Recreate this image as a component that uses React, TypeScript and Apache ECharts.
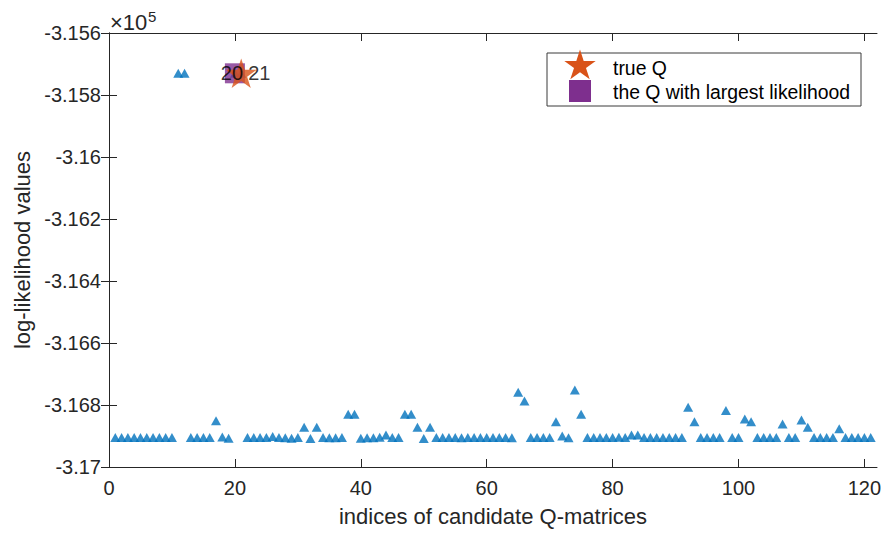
import React, { useEffect, useRef } from "react";
import * as echarts from "echarts";

const candidateIndices = [
  1, 2, 3, 4, 5, 6, 7, 8, 9, 10,
  11, 12, 13, 14, 15, 16, 17, 18, 19, 20,
  21, 22, 23, 24, 25, 26, 27, 28, 29, 30,
  31, 32, 33, 34, 35, 36, 37, 38, 39, 40,
  41, 42, 43, 44, 45, 46, 47, 48, 49, 50,
  51, 52, 53, 54, 55, 56, 57, 58, 59, 60,
  61, 62, 63, 64, 65, 66, 67, 68, 69, 70,
  71, 72, 73, 74, 75, 76, 77, 78, 79, 80,
  81, 82, 83, 84, 85, 86, 87, 88, 89, 90,
  91, 92, 93, 94, 95, 96, 97, 98, 99, 100,
  101, 102, 103, 104, 105, 106, 107, 108, 109, 110,
  111, 112, 113, 114, 115, 116, 117, 118, 119, 120,
  121,
];

const logLikelihood = [
  -316905, -316905, -316905, -316905, -316905, -316905, -316905, -316905, -316905, -316905,
  -315730, -315730, -316905, -316905, -316905, -316905, -316851, -316903, -316907, -315730,
  -315730, -316905, -316905, -316905, -316905, -316902, -316905, -316906, -316907, -316905,
  -316872, -316908, -316872, -316905, -316906, -316906, -316905, -316830, -316830, -316907,
  -316906, -316906, -316904, -316897, -316905, -316905, -316830, -316830, -316872, -316908,
  -316872, -316905, -316905, -316905, -316905, -316906, -316905, -316905, -316905, -316905,
  -316905, -316905, -316905, -316906, -316759, -316787, -316905, -316905, -316905, -316905,
  -316854, -316900, -316906, -316752, -316830, -316905, -316905, -316905, -316905, -316905,
  -316904, -316905, -316897, -316897, -316905, -316905, -316905, -316905, -316905, -316905,
  -316905, -316807, -316854, -316905, -316905, -316905, -316905, -316818, -316905, -316905,
  -316845, -316854, -316905, -316905, -316905, -316905, -316861, -316905, -316905, -316848,
  -316872, -316905, -316905, -316905, -316905, -316877, -316905, -316905, -316905, -316905,
  -316905,
];

const bestQIndex = 20;
const trueQIndex = 21;

const xTicks = [0, 20, 40, 60, 80, 100, 120];
const yTicks = [-317000, -316800, -316600, -316400, -316200, -316000, -315800, -315600];

const FONT = "'Liberation Sans', Arial, Helvetica, sans-serif";
const AX = "#262626";
const BLUE = "#0072BD";
const ORANGE = "#D95319";
const PURPLE = "#7E2F8E";

function starPts(cx: number, cy: number, R: number, r: number) {
  const pts: number[][] = [];
  for (let i = 0; i < 10; i++) {
    const ang = -Math.PI / 2 + (i * Math.PI) / 5;
    const rad = i % 2 === 0 ? R : r;
    pts.push([cx + rad * Math.cos(ang), cy + rad * Math.sin(ang)]);
  }
  return pts;
}

const starPath =
  "path://" +
  starPts(0, 0, 100, 38.2)
    .map((p, i) => (i === 0 ? "M" : "L") + p[0].toFixed(2) + "," + p[1].toFixed(2))
    .join(" ") +
  " Z";

function fmtY(v: number) {
  return String(parseFloat((v / 1e5).toFixed(4)));
}

export default function App() {
  const ref = useRef<HTMLDivElement>(null);
  useEffect(() => {
    if (!ref.current) return;
    const chart = echarts.init(ref.current, null, { renderer: "svg" });
    const xMin = 0;
    const xMax = 122;
    const yMin = yTicks[0];
    const yMax = yTicks[yTicks.length - 1];
    const tri = candidateIndices.map((x, i) => [x, logLikelihood[i]]);
    const best = [bestQIndex, logLikelihood[bestQIndex - 1]];
    const truth = [trueQIndex, logLikelihood[trueQIndex - 1]];

    const axisLine = { show: true, lineStyle: { color: AX, width: 1 } };
    const axisTick = { show: true, inside: true, length: 8, lineStyle: { color: AX, width: 1 } };
    const labelStyle = { color: "#000", fontSize: 20, fontFamily: FONT };

    chart.setOption({
      animation: false,
      backgroundColor: "#fff",
      textStyle: { fontFamily: FONT },
      grid: { left: 109, right: 9, top: 33, bottom: 67, containLabel: false },
      xAxis: [
        {
          type: "value",
          position: "bottom",
          min: xMin,
          max: xMax,
          interval: 20,
          axisLine,
          axisTick: { ...axisTick, customValues: xTicks },
          axisLabel: {
            customValues: xTicks,
            color: AX,
            fontSize: 20,
            fontFamily: FONT,
            margin: 11,
          },
          splitLine: { show: false },
          name: "indices of candidate Q-matrices",
          nameLocation: "middle",
          nameGap: 38,
          nameTextStyle: { color: AX, fontSize: 22, fontFamily: FONT },
        },
        {
          type: "value",
          position: "top",
          min: xMin,
          max: xMax,
          interval: 20,
          axisLine,
          axisTick: { ...axisTick, customValues: xTicks },
          axisLabel: { show: false },
          splitLine: { show: false },
        },
      ],
      yAxis: [
        {
          type: "value",
          position: "left",
          min: yMin,
          max: yMax,
          interval: 200,
          axisLine,
          axisTick,
          axisLabel: {
            color: AX,
            fontSize: 20,
            fontFamily: FONT,
            margin: 8,
            formatter: (v: number) => fmtY(v),
          },
          splitLine: { show: false },
          name: "log-likelihood values",
          nameLocation: "middle",
          nameGap: 74,
          nameTextStyle: { color: AX, fontSize: 22, fontFamily: FONT },
        },
        {
          type: "value",
          position: "right",
          min: yMin,
          max: yMax,
          interval: 200,
          axisLine,
          axisTick,
          axisLabel: { show: false },
          splitLine: { show: false },
        },
      ],
      series: [
        {
          type: "scatter",
          name: "candidates",
          data: tri,
          symbol: "triangle",
          symbolSize: [10, 9],
          itemStyle: { color: BLUE },
          z: 2,
        },
        {
          type: "scatter",
          name: "the Q with largest likelihood",
          data: [best],
          symbol: "rect",
          symbolSize: 20,
          itemStyle: { color: PURPLE },
          z: 3,
        },
        {
          type: "scatter",
          name: "true Q",
          data: [truth],
          symbol: starPath,
          symbolKeepAspect: true,
          symbolSize: 31,
          itemStyle: { color: ORANGE },
          z: 4,
        },
        {
          type: "scatter",
          name: "index labels",
          symbolSize: 0,
          silent: true,
          z: 5,
          data: [
            {
              value: best,
              label: { show: true, position: "inside", offset: [-3, 0], ...labelStyle, formatter: (p: any) => String(p.value[0]) },
            },
            {
              value: truth,
              label: { show: true, position: "inside", align: "left", offset: [7, 0], ...labelStyle, formatter: (p: any) => String(p.value[0]) },
            },
          ],
        },
      ],
      graphic: [
        {
          type: "text",
          x: 110,
          y: 22,
          style: { text: "×10", fontSize: 22, fontFamily: FONT, fill: AX, verticalAlign: "middle", align: "left" },
          z: 10,
        },
        {
          type: "text",
          x: 148,
          y: 16,
          style: { text: "5", fontSize: 15, fontFamily: FONT, fill: AX, verticalAlign: "middle", align: "left" },
          z: 10,
        },
        {
          type: "rect",
          shape: { x: 547, y: 53, width: 314, height: 53 },
          style: { fill: "#fff", stroke: "#3a3a3a", lineWidth: 1 },
          z: 20,
        },
        {
          type: "rect",
          shape: { x: 569, y: 80, width: 22, height: 22 },
          style: { fill: PURPLE },
          z: 21,
        },
        {
          type: "polygon",
          shape: { points: starPts(580, 66, 16.5, 6.3) },
          style: { fill: ORANGE },
          z: 22,
        },
        {
          type: "text",
          x: 613,
          y: 68,
          style: {
            text: "true Q",
            fontSize: 19.4,
            fontFamily: FONT,
            fill: "#000",
            verticalAlign: "middle",
            align: "left",
          },
          z: 23,
        },
        {
          type: "text",
          x: 613,
          y: 92,
          style: {
            text: "the Q with largest likelihood",
            fontSize: 19.4,
            fontFamily: FONT,
            fill: "#000",
            verticalAlign: "middle",
            align: "left",
          },
          z: 23,
        },
      ],
    });
    return () => chart.dispose();
  }, []);
  return (
    <div
      ref={ref}
      style={{ position: "absolute", left: 0, top: 0, width: 886, height: 534 }}
    />
  );
}
